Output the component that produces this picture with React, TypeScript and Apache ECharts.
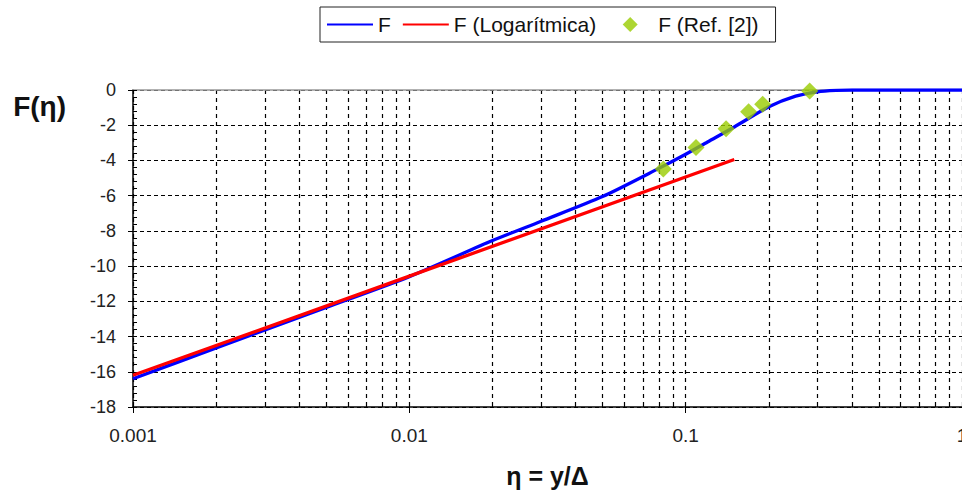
import React, { useEffect, useRef } from "react";
import * as echarts from "echarts";

// Curve F (blue)
const etaF = [0.001, 0.002, 0.005, 0.01, 0.02, 0.03, 0.05, 0.08, 0.1, 0.12, 0.15, 0.2, 0.25, 0.3, 0.35, 0.4, 0.6, 1];
const valF = [-16.4, -14.65, -12.35, -10.6, -8.55, -7.45, -6.05, -4.45, -3.65, -2.95, -2.1, -0.95, -0.35, -0.1, -0.02, 0, 0, 0];
// Logarithmic law (red)
const etaLog = [0.001, 0.01, 0.15];
const valLog = [-16.2, -10.57, -3.95];
// Reference [2] points (green diamonds)
const etaRef = [0.083, 0.109, 0.14, 0.169, 0.19, 0.281];
const valRef = [-4.49, -3.26, -2.2, -1.23, -0.81, -0.06];
// Axis ticks
const xMajorTicks = [0.001, 0.01, 0.1, 1];
const xMinorMultipliers = [1, 2, 3, 4, 5, 6, 7, 8, 9];
const seriesNames = ["F", "F (Logarítmica)", "F (Ref. [2])"];

const xAllTicks: number[] = [];
xMajorTicks.slice(0, 3).forEach((d) => {
  xMinorMultipliers.forEach((m) => xAllTicks.push(+(d * m).toPrecision(6)));
});
xAllTicks.push(1);

const FONT = "'Liberation Sans', Arial, sans-serif";
// diamond centred in a 46x16 box (the two leading moves only widen the box)
const DIAMOND = "path://M-23,-8 M23,8 M0,-7.5 L7.5,0 L0,7.5 L-7.5,0 Z";

export default function App() {
  const ref = useRef<HTMLDivElement>(null);
  useEffect(() => {
    if (!ref.current) return;
    const chart = echarts.init(ref.current, null, { renderer: "svg" });
    const zip = (xs: number[], ys: number[]) => xs.map((x, i) => [x, ys[i]]);
    chart.setOption({
      animation: false,
      backgroundColor: "#fff",
      textStyle: { fontFamily: FONT },
      legend: {
        data: [
          { name: seriesNames[0], itemStyle: { opacity: 0 } },
          { name: seriesNames[1], itemStyle: { opacity: 0 } },
          { name: seriesNames[2], icon: DIAMOND },
        ],
        left: 320,
        top: 7,
        padding: [7, 17, 7, 6],
        itemGap: 11,
        itemWidth: 46,
        itemHeight: 16,
        symbolKeepAspect: true,
        borderColor: "#222",
        borderWidth: 1,
        borderRadius: 0,
        textStyle: { fontSize: 21, color: "#111", fontFamily: FONT },
      },
      grid: { left: 133, right: 0, top: 90, bottom: 85, containLabel: false, outerBoundsMode: "none" },
      xAxis: [
        {
          type: "log",
          logBase: 10,
          min: 0.001,
          max: 1,
          position: "bottom",
          name: "η = y/Δ",
          nameLocation: "middle",
          nameGap: 56,
          nameTextStyle: { fontSize: 25, fontWeight: "bold", color: "#111", fontFamily: FONT },
          axisLine: { show: true, onZero: false, lineStyle: { color: "#000", width: 1.5 } },
          axisTick: { show: true, inside: true, length: 4, customValues: xAllTicks, lineStyle: { color: "#000" } },
          axisLabel: {
            show: true,
            customValues: xMajorTicks,
            margin: 19,
            fontSize: 19,
            color: "#222",
            fontFamily: FONT,
            formatter: (v: number) => String(+Number(v).toPrecision(3)),
          },
          splitLine: { show: true, lineStyle: { color: "#000", type: [4, 4], width: 1.2 } },
          minorTick: { show: false },
        },
        {
          type: "log",
          logBase: 10,
          min: 0.001,
          max: 1,
          position: "bottom",
          axisLine: { show: false, onZero: false },
          axisTick: { show: true, inside: false, length: 6, customValues: xMajorTicks, lineStyle: { color: "#000" } },
          axisLabel: { show: false },
          splitLine: { show: false },
        },
        {
          type: "log",
          logBase: 10,
          min: 0.001,
          max: 1,
          position: "top",
          axisLine: { show: true, onZero: false, lineStyle: { color: "#999", width: 1.5 } },
          axisTick: { show: false },
          axisLabel: { show: false },
          splitLine: { show: false },
        },
      ],
      yAxis: [
        {
          type: "value",
          min: -18,
          max: 0,
          interval: 2,
          position: "left",
          name: "F(η)",
          nameLocation: "end",
          nameGap: -16,
          nameTextStyle: {
            fontSize: 28,
            fontWeight: "bold",
            color: "#111",
            fontFamily: FONT,
            align: "right",
            verticalAlign: "middle",
            padding: [0, 67, 0, 0],
          },
          axisLine: { show: true, onZero: false, lineStyle: { color: "#000", width: 1.5 } },
          axisTick: { show: true, inside: false, length: 5, lineStyle: { color: "#000" } },
          axisLabel: { fontSize: 18, color: "#222", margin: 17, fontFamily: FONT },
          splitLine: { show: true, lineStyle: { color: "#000", type: [4, 3], width: 1.2 } },
        },
        {
          type: "value",
          min: -18,
          max: 0,
          interval: 2,
          position: "left",
          axisLine: { show: false, onZero: false },
          axisTick: { show: true, inside: true, length: 4, lineStyle: { color: "#000" } },
          minorTick: { show: true, splitNumber: 5, length: 4, lineStyle: { color: "#000" } },
          axisLabel: { show: false },
          splitLine: { show: false },
        },
      ],
      series: [
        {
          name: seriesNames[0],
          type: "line",
          xAxisIndex: 0,
          yAxisIndex: 0,
          data: zip(etaF, valF),
          smooth: 0.25,
          symbol: "none",
          lineStyle: { color: "#0000ff", width: 3.3 },
          itemStyle: { color: "#0000ff" },
          z: 3,
        },
        {
          name: seriesNames[1],
          type: "line",
          xAxisIndex: 0,
          yAxisIndex: 0,
          data: zip(etaLog, valLog),
          symbol: "none",
          lineStyle: { color: "#ff0000", width: 3.3 },
          itemStyle: { color: "#ff0000" },
          z: 4,
        },
        {
          name: seriesNames[2],
          type: "scatter",
          xAxisIndex: 0,
          yAxisIndex: 0,
          data: zip(etaRef, valRef),
          symbol: "diamond",
          symbolSize: 17,
          itemStyle: { color: "#99cc00" },
          z: 5,
        },
      ],
    });
    return () => chart.dispose();
  }, []);
  return (
    <div
      ref={ref}
      style={{ position: "fixed", left: 0, top: 0, width: 962, height: 492 }}
    />
  );
}
